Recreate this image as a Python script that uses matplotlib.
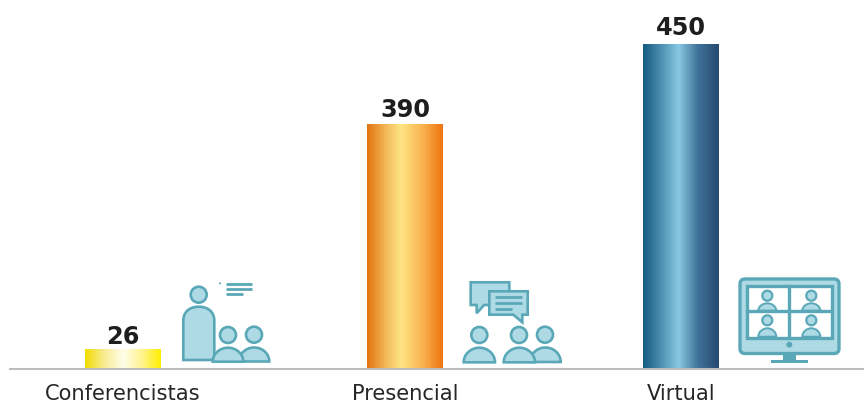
import numpy as np
import matplotlib
matplotlib.use("Agg")
import matplotlib.pyplot as plt
from matplotlib.colors import LinearSegmentedColormap
from matplotlib.patches import Circle, FancyBboxPatch, Polygon, Rectangle, PathPatch
from matplotlib.path import Path

categories = ["Conferencistas", "Presencial", "Virtual"]
value_labels = ["26", "390", "450"]
# Drawn bar heights (the picture's bars are not proportional to their labels)
bar_heights = [27, 339, 450]

W, H = 864, 404
STROKE, FILL = "#5AA8B7", "#AEDAE5"
TEXT = "#1E1E1E"
centers_px = [123, 405, 681]
bar_w = 76
base_y = 369
top_y = 44
label_gap_px = [5, 7, 9]
gradients = [
    [(0, "#F2DB00"), (0.25, "#F8EC90"), (0.5, "#FFFDEB"), (0.75, "#FFF490"), (1, "#FFEE00")],
    [(0, "#E2740F"), (0.25, "#F3B95A"), (0.45, "#FFE585"), (0.75, "#F9B04C"), (1, "#EE7410")],
    [(0, "#14597F"), (0.25, "#4F92B4"), (0.47, "#88C8E2"), (0.72, "#40739A"), (1, "#26496F")],
]

fig = plt.figure(figsize=(W / 100, H / 100), dpi=100)
plt.rcParams["font.family"] = "DejaVu Sans"

# main axes spanning the baseline to the tallest bar
ax = fig.add_axes([10 / W, 1 - base_y / H, (W - 10) / W, (base_y - top_y) / H])
ax.set_xlim(10, W)
ax.set_ylim(0, 450)
ax.patch.set_alpha(0)
for s in ["top", "left", "right"]:
    ax.spines[s].set_visible(False)
ax.spines["bottom"].set_color("#BDBDBD")
ax.spines["bottom"].set_linewidth(1.5)
ax.yaxis.set_visible(False)
ax.set_xticks(centers_px)
ax.set_xticklabels(categories, fontsize=15.1, color="#262626")
ax.tick_params(axis="x", length=0, pad=11)

bars = ax.bar(centers_px, bar_heights, width=bar_w, color="none", linewidth=0)
for bar, stops, lab, gap in zip(bars, gradients, value_labels, label_gap_px):
    cmap = LinearSegmentedColormap.from_list("g", stops)
    x0, w, h = bar.get_x(), bar.get_width(), bar.get_height()
    ax.imshow(np.linspace(0, 1, 256)[None, :], cmap=cmap, aspect="auto",
              extent=(x0, x0 + w, 0, h), zorder=2)
    ax.annotate(lab, (x0 + w / 2, h), xytext=(0, gap * 0.72), textcoords="offset points",
                ha="center", va="baseline", fontsize=17.3, fontweight="bold", color=TEXT)
ax.set_xlim(10, W)
ax.set_ylim(0, 450)

# overlay axes in pixel units for the pictograms
ic = fig.add_axes([0, 0, 1, 1])
ic.set_xlim(0, W)
ic.set_ylim(H, 0)
ic.axis("off")
ic.patch.set_alpha(0)
LW = 1.9


def head(x, y, r=8, lw=LW):
    ic.add_patch(Circle((x, y), r, fc=FILL, ec=STROKE, lw=lw, zorder=5))


def dome(x0, x1, top, bot, lw=LW, z=5):
    cx = (x0 + x1) / 2
    k = 0.55
    rx, ry = (x1 - x0) / 2, bot - top
    verts = [(x0, bot), (x0, bot - k * ry), (cx - k * rx, top), (cx, top),
             (cx + k * rx, top), (x1, bot - k * ry), (x1, bot), (x0, bot)]
    codes = [Path.MOVETO] + [Path.CURVE4] * 6 + [Path.CLOSEPOLY]
    ic.add_patch(PathPatch(Path(verts, codes), fc=FILL, ec=STROKE, lw=lw, zorder=z))


def person(x, hy, x0, x1, top, bot, r=8, z=5):
    dome(x0, x1, top, bot, z=z)
    head(x, hy, r)


def hline(x0, x1, y, lw=2.0):
    ic.plot([x0, x1], [y, y], color=STROKE, lw=lw, solid_capstyle="butt", zorder=7)


# presenter
head(198.7, 294.7)
px0, px1, ptop, pbot = 183.3, 214.3, 306.7, 360
cx = (px0 + px1) / 2
ic.add_patch(PathPatch(Path(
    [(px0, pbot), (px0, ptop + 14), (px0, ptop + 5), (cx - 9, ptop), (cx, ptop),
     (cx + 9, ptop), (px1, ptop + 5), (px1, ptop + 14), (px1, pbot), (px0, pbot)],
    [Path.MOVETO, Path.LINETO, Path.CURVE4, Path.CURVE4, Path.CURVE4, Path.CURVE4,
     Path.CURVE4, Path.CURVE4, Path.LINETO, Path.CLOSEPOLY]),
    fc=FILL, ec=STROKE, lw=LW, zorder=4))
person(254, 334.7, 239, 269.3, 347.5, 361.5, z=5)
person(228, 335, 212.7, 243.3, 347.7, 361.7, z=6)
hline(225.7, 252.3, 284)
hline(225.7, 252.3, 289)
hline(225.7, 242.7, 294.3)
ic.add_patch(Circle((220, 283.3), 1.0, fc=STROKE, ec="none"))

# chat bubbles
ic.add_patch(Polygon([(470.7, 282.3), (509.3, 282.3), (509.3, 305), (484, 305), (476.7, 313.3),
                      (476.7, 305), (470.7, 305)], closed=True, fc=FILL, ec=STROKE, lw=LW, zorder=5))
ic.add_patch(Polygon([(489.3, 291.3), (527.7, 291.3), (527.7, 314.7), (522.3, 314.7), (522.3, 322.3),
                      (513.3, 314.7), (489.3, 314.7)], closed=True, fc=FILL, ec=STROKE, lw=LW, zorder=6))
hline(495, 521.7, 297.3)
hline(495, 521.7, 302.7)
hline(495, 512.3, 308.7)
person(545, 334.7, 530, 560.7, 347.5, 362, z=5)
person(519, 335, 503.7, 535, 347.7, 362.3, z=6)
person(479.3, 335, 463.7, 495, 347.7, 362.3, z=6)

# monitor
ic.add_patch(FancyBboxPatch((743, 282), 93, 68.5, boxstyle="round,pad=3,rounding_size=5",
                            fc=FILL, ec=STROKE, lw=2.4, zorder=4))
ic.add_patch(Rectangle((746.7, 286), 85.6, 51.7, fc="white", ec=STROKE, lw=2.4, zorder=5))
for hx in (767.3, 811.3):
    for hy, t, b in ((295.7, 303.3, 310.7), (320.3, 328.3, 336.7)):
        dome(hx - 9, hx + 9, t, b, lw=1.4, z=6)
        head(hx, hy, 5, lw=1.6)
ic.plot([789.3, 789.3], [286, 337.7], color=STROKE, lw=2.4, zorder=7)
ic.plot([746.7, 832.3], [311.3, 311.3], color=STROKE, lw=2.4, zorder=7)
ic.add_patch(Circle((789.3, 344.7), 3, fc=STROKE, ec="none", zorder=7))
ic.add_patch(Rectangle((783.3, 353), 12.4, 7.5, fc=STROKE, ec="none", zorder=3))
ic.add_patch(Rectangle((770.7, 360), 37.3, 3.3, fc=STROKE, ec="none", zorder=3))

fig.savefig("out.png", dpi=100, facecolor="white")
